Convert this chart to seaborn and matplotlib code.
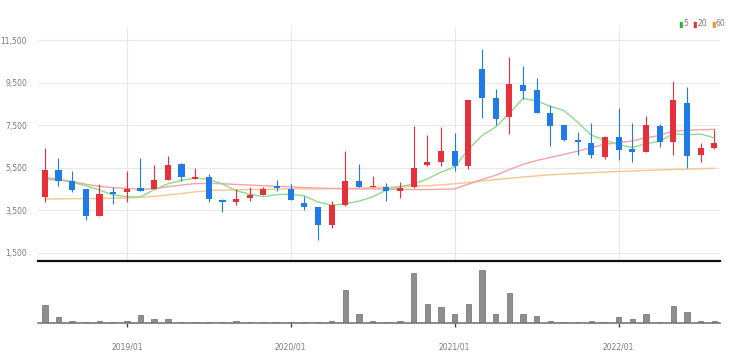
import numpy as np
import pandas as pd
import matplotlib
matplotlib.use("Agg")
import matplotlib.pyplot as plt
from matplotlib import font_manager
import seaborn as sns

# ---------------- data (monthly, 2018/07 .. 2022/08) ----------------
months = pd.period_range("2018-07", "2022-08", freq="M").strftime("%Y/%m").tolist()

opens = [4110, 5400, 4890, 4500, 3220, 4370, 4370, 4560, 4480, 4930,
         5690, 4970, 5050, 3980, 3890, 4080, 4230, 4620, 4480, 3860,
         3650, 2810, 3750, 4860, 4580, 4610, 4420, 4580, 5600, 5780,
         6290, 5590, 10120, 8750, 7890, 9390, 9170, 8090, 7500, 6810,
         6640, 5990, 6920, 6370, 6230, 7460, 6720, 8560, 6090, 6420]
closes = [5400, 4890, 4450, 3220, 4260, 4240, 4480, 4400, 4930, 5640,
          5040, 5070, 4030, 3890, 4040, 4220, 4480, 4520, 3990, 3650,
          2780, 3720, 4890, 4580, 4650, 4400, 4530, 5480, 5780, 6260,
          5590, 8670, 8750, 7780, 9450, 9110, 8090, 7460, 6810, 6690,
          6090, 6920, 6320, 6240, 7510, 6720, 8680, 6060, 6400, 6650]
highs = [6400, 5960, 5330, 4500, 4730, 4580, 5330, 5940, 5620, 6030,
         5740, 5500, 5190, 4030, 4480, 4580, 4580, 4930, 4730, 4180,
         3650, 3920, 6290, 5670, 5120, 4760, 4840, 7460, 7030, 7390,
         7120, 8670, 11060, 9210, 10700, 10300, 9700, 8430, 7500, 7180,
         7590, 6990, 8280, 7620, 7930, 7570, 9570, 9290, 6640, 7310]
lows = [3880, 4620, 4370, 3060, 3220, 3800, 3900, 4400, 4480, 4930,
        4850, 4970, 3870, 3400, 3750, 3920, 4190, 4420, 3990, 3530,
        2080, 2670, 3690, 4580, 4580, 3920, 4080, 4550, 5570, 5570,
        5360, 5430, 7820, 7500, 7080, 8710, 8090, 6500, 6770, 6090,
        5930, 5900, 5870, 5750, 6230, 6460, 6090, 5470, 5750, 6370]

ma5 = [4930, 4930, 4810, 4650, 4445, 4213, 4131, 4121, 4463, 4738,
       4898, 5016, 4942, 4734, 4414, 4250, 4132, 4230, 4250, 4172,
       3884, 3732, 3806, 3924, 4124, 4448, 4610, 4728, 4968, 5290,
       5528, 6356, 7010, 7410, 8048, 8752, 8636, 8378, 8184, 7632,
       7028, 6794, 6566, 6452, 6616, 6742, 7094, 7042, 7074, 6906]
ma20 = [5050, 4950, 4850, 4720, 4620, 4560, 4520, 4480, 4500, 4600,
        4680, 4750, 4760, 4740, 4710, 4680, 4650, 4620, 4590, 4560,
        4540, 4520, 4510, 4500, 4500, 4490, 4480, 4470, 4470, 4480,
        4500, 4720, 4944, 5138, 5409, 5653, 5834, 5981, 6122, 6274,
        6439, 6599, 6671, 6754, 6897, 7013, 7220, 7249, 7280, 7300]
ma60 = [4020, 4030, 4040, 4040, 4050, 4060, 4070, 4100, 4150, 4210,
        4280, 4360, 4420, 4440, 4460, 4470, 4480, 4490, 4500, 4500,
        4500, 4510, 4520, 4540, 4560, 4580, 4600, 4620, 4650, 4690,
        4740, 4800, 4870, 4940, 5000, 5060, 5110, 5160, 5200, 5230,
        5260, 5290, 5320, 5340, 5370, 5390, 5410, 5430, 5450, 5470]

volumes = [183, 57, 23, 10, 23, 10, 23, 77, 43, 43,
           10, 10, 10, 10, 20, 10, 10, 10, 10, 10,
           10, 20, 333, 93, 20, 10, 20, 503, 187, 160,
           87, 193, 537, 87, 300, 87, 70, 20, 10, 10,
           20, 10, 60, 43, 93, 10, 170, 110, 20, 20]

y_ticks = [1500, 3500, 5500, 7500, 9500, 11500]
x_tick_labels = ["2019/01", "2020/01", "2021/01", "2022/01"]
legend_items = [("5", "#2bb52b"), ("20", "#e8303a"), ("60", "#f0952a")]

# ---------------- style ----------------
sns.set_theme(style="white")
names = {f.name for f in font_manager.fontManager.ttflist}
narrow = "Liberation Sans Narrow" if "Liberation Sans Narrow" in names else "DejaVu Sans"
plt.rcParams["font.family"] = [narrow, "DejaVu Sans"]
fs = 6.5 if narrow != "DejaVu Sans" else 5.5

RED = "#e8303a"
BLUE = "#1f7be8"
GRID = "#e9e9e9"
TXT = "#7a7a7a"

df = pd.DataFrame({"month": months, "open": opens, "close": closes,
                   "high": highs, "low": lows, "ma5": ma5, "ma20": ma20,
                   "ma60": ma60, "volume": volumes})
df["i"] = np.arange(len(df))
df["up"] = df["close"] >= df["open"]
df["color"] = np.where(df["up"], RED, BLUE)
df["body_lo"] = df[["open", "close"]].min(axis=1)
df["body_h"] = (df["close"] - df["open"]).abs().clip(lower=60)

W, H = 736, 363
fig = plt.figure(figsize=(W / 100, H / 100), dpi=100)
fig.patch.set_facecolor("white")

left, right = 38, 720
ax = fig.add_axes([left / W, 1 - 260.5 / H, (right - left) / W, (260.5 - 27.25) / H])
axv = fig.add_axes([left / W, 1 - 323 / H, (right - left) / W, (323 - 262.5) / H])

# ---------------- price panel ----------------
sns.lineplot(data=df, x="i", y="ma60", ax=ax, color="#f7c58f", linewidth=1.0, zorder=2)
sns.lineplot(data=df, x="i", y="ma20", ax=ax, color="#f5a3a6", linewidth=1.0, zorder=2)
sns.lineplot(data=df, x="i", y="ma5", ax=ax, color="#8ddc8a", linewidth=1.0, zorder=2)

ax.vlines(df["i"], df["low"], df["high"], colors=df["color"], linewidth=0.8, zorder=3)
ax.bar(df["i"], df["body_h"], bottom=df["body_lo"], width=0.45,
       color=df["color"], linewidth=0, zorder=4)

tick_pos = [months.index(m) for m in x_tick_labels]
ax.set_xlim(-0.5, 49.42)
ax.set_ylim(1133, 12100)
ax.set_yticks(y_ticks)
ax.set_yticklabels([f"{v:,}" for v in y_ticks])
ax.set_xticks(tick_pos)
ax.tick_params(axis="x", bottom=False, labelbottom=False)
ax.tick_params(axis="y", left=False, pad=2, labelsize=fs, labelcolor=TXT)
ax.grid(True, axis="both", color=GRID, linewidth=0.8)
ax.set_axisbelow(True)
for s in ["top", "right", "left"]:
    ax.spines[s].set_visible(False)
ax.spines["bottom"].set_color("#111111")
ax.spines["bottom"].set_linewidth(1.6)
ax.set_xlabel("")
ax.set_ylabel("")

# ---------------- volume panel ----------------
sns.barplot(data=df, x="i", y="volume", ax=axv, native_scale=True, width=0.4,
            color="#8e8e8e", saturation=1, errorbar=None,
            edgecolor="#6e6e6e", linewidth=0.5)
axv.set_xlim(-0.5, 49.42)
axv.set_ylim(0, 610)
axv.set_yticks([])
axv.set_xticks(tick_pos)
axv.set_xticklabels(x_tick_labels)
axv.tick_params(axis="x", bottom=True, length=3, width=1, color="#444444",
                pad=11, labelsize=fs, labelcolor=TXT)
for s in ["top", "right", "left"]:
    axv.spines[s].set_visible(False)
axv.spines["bottom"].set_color("#777777")
axv.spines["bottom"].set_linewidth(1.2)
axv.set_xlabel("")
axv.set_ylabel("")
axv.set_facecolor("none")

# ---------------- legend ----------------
x0 = 678
for lab, col in legend_items:
    fig.text(x0 / W, 1 - 24 / H, "\u25AE", color=col, fontsize=6,
             family="DejaVu Sans", ha="left", va="center")
    fig.text((x0 + 5) / W, 1 - 24 / H, lab, color=TXT, fontsize=fs,
             ha="left", va="center")
    x0 += 5 + 5 * len(lab) + 4

fig.savefig("out.png", dpi=100, facecolor="white")
